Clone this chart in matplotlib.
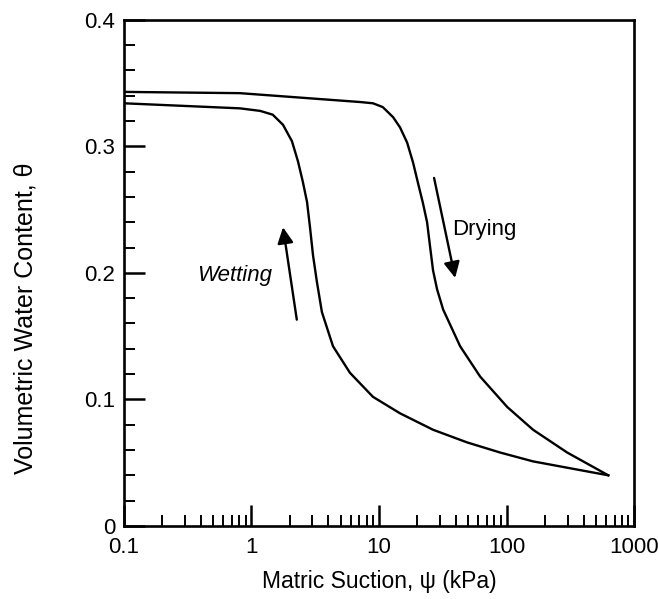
#Soil water characteristic curve - drying and wetting hysteresis
import matplotlib
matplotlib.use('Agg')
import matplotlib.pyplot as plt
from matplotlib.ticker import LogLocator, FixedLocator, MultipleLocator, FuncFormatter

plt.rcParams['font.family'] = ['Liberation Sans', 'DejaVu Sans']

#Drying branch
drying_suction = [0.1, 0.813, 7.10, 8.97, 10.7, 12.9, 14.6, 16.6, 18.5, 20.2, 22.1, 23.8, 25.1, 26.5,
                  28.5, 31.8, 43.2, 62.0, 101, 161, 298, 625]
drying_theta = [0.343, 0.342, 0.335, 0.334, 0.331, 0.323, 0.315, 0.303, 0.287, 0.271, 0.255, 0.240, 0.221, 0.202,
                0.187, 0.171, 0.142, 0.118, 0.094, 0.076, 0.058, 0.040]

#Wetting branch
wetting_suction = [0.1, 0.813, 1.17, 1.47, 1.77, 2.08, 2.32, 2.53, 2.73, 2.88, 3.04, 3.26, 3.57, 4.36,
                   5.92, 8.97, 14.6, 26.5, 49.0, 88.9, 161, 298, 625]
wetting_theta = [0.334, 0.330, 0.328, 0.325, 0.317, 0.304, 0.288, 0.272, 0.256, 0.236, 0.214, 0.193, 0.169, 0.142,
                 0.121, 0.102, 0.089, 0.076, 0.066, 0.058, 0.051, 0.046, 0.040]

x_ticks = [0.1, 1, 10, 100, 1000]
x_ticklabels = ['0.1', '1', '10', '100', '1000']
y_ticks = [0, 0.1, 0.2, 0.3, 0.4]
y_ticklabels = ['0', '0.1', '0.2', '0.3', '0.4']

fig = plt.figure(figsize=(6.58, 5.99), dpi=100)
ax = fig.add_axes([0.188, 0.122, 0.776, 0.845])

ax.plot(drying_suction, drying_theta, color='k', lw=1.7, solid_joinstyle='round')
ax.plot(wetting_suction, wetting_theta, color='k', lw=1.7, solid_joinstyle='round')

ax.set_xscale('log')
ax.set_xlim(0.1, 1000)
ax.set_ylim(0, 0.4)

ax.xaxis.set_major_locator(FixedLocator(x_ticks))
ax.xaxis.set_major_formatter(FuncFormatter(lambda v, p: x_ticklabels[x_ticks.index(v)] if v in x_ticks else ''))
ax.xaxis.set_minor_locator(LogLocator(base=10, subs=range(2, 10)))
ax.xaxis.set_minor_formatter(FuncFormatter(lambda v, p: ''))
ax.set_yticks(y_ticks)
ax.set_yticklabels(y_ticklabels)
ax.yaxis.set_minor_locator(MultipleLocator(0.02))

ax.tick_params(which='major', direction='in', length=15, width=1.8, labelsize=16, pad=6)
ax.tick_params(axis='x', which='major', pad=8)
ax.tick_params(which='minor', direction='in', length=8, width=1.4)
ax.tick_params(top=False, right=False, which='both')
for s in ax.spines.values():
    s.set_linewidth(1.9)

ax.set_xlabel('Matric Suction, \u03c8 (kPa)', fontsize=16.5)
ax.set_ylabel('Volumetric Water Content, \u03b8', fontsize=18)
ax.xaxis.set_label_coords(0.5, -0.088)
ax.yaxis.set_label_coords(-0.168, 0.41)

#Arrows and labels
ax.annotate('', xy=(1.77, 0.236), xytext=(2.27, 0.163),
            arrowprops=dict(arrowstyle='-|>', color='k', lw=1.7, mutation_scale=24, shrinkA=0, shrinkB=0))
ax.text(0.743, 0.198, 'Wetting', fontsize=16, style='italic', ha='center', va='center')

ax.annotate('', xy=(39.5, 0.196), xytext=(27.0, 0.275),
            arrowprops=dict(arrowstyle='-|>', color='k', lw=1.7, mutation_scale=24, shrinkA=0, shrinkB=0))
ax.text(37.5, 0.234, 'Drying', fontsize=16, ha='left', va='center')

plt.savefig('out.png', dpi=100)
